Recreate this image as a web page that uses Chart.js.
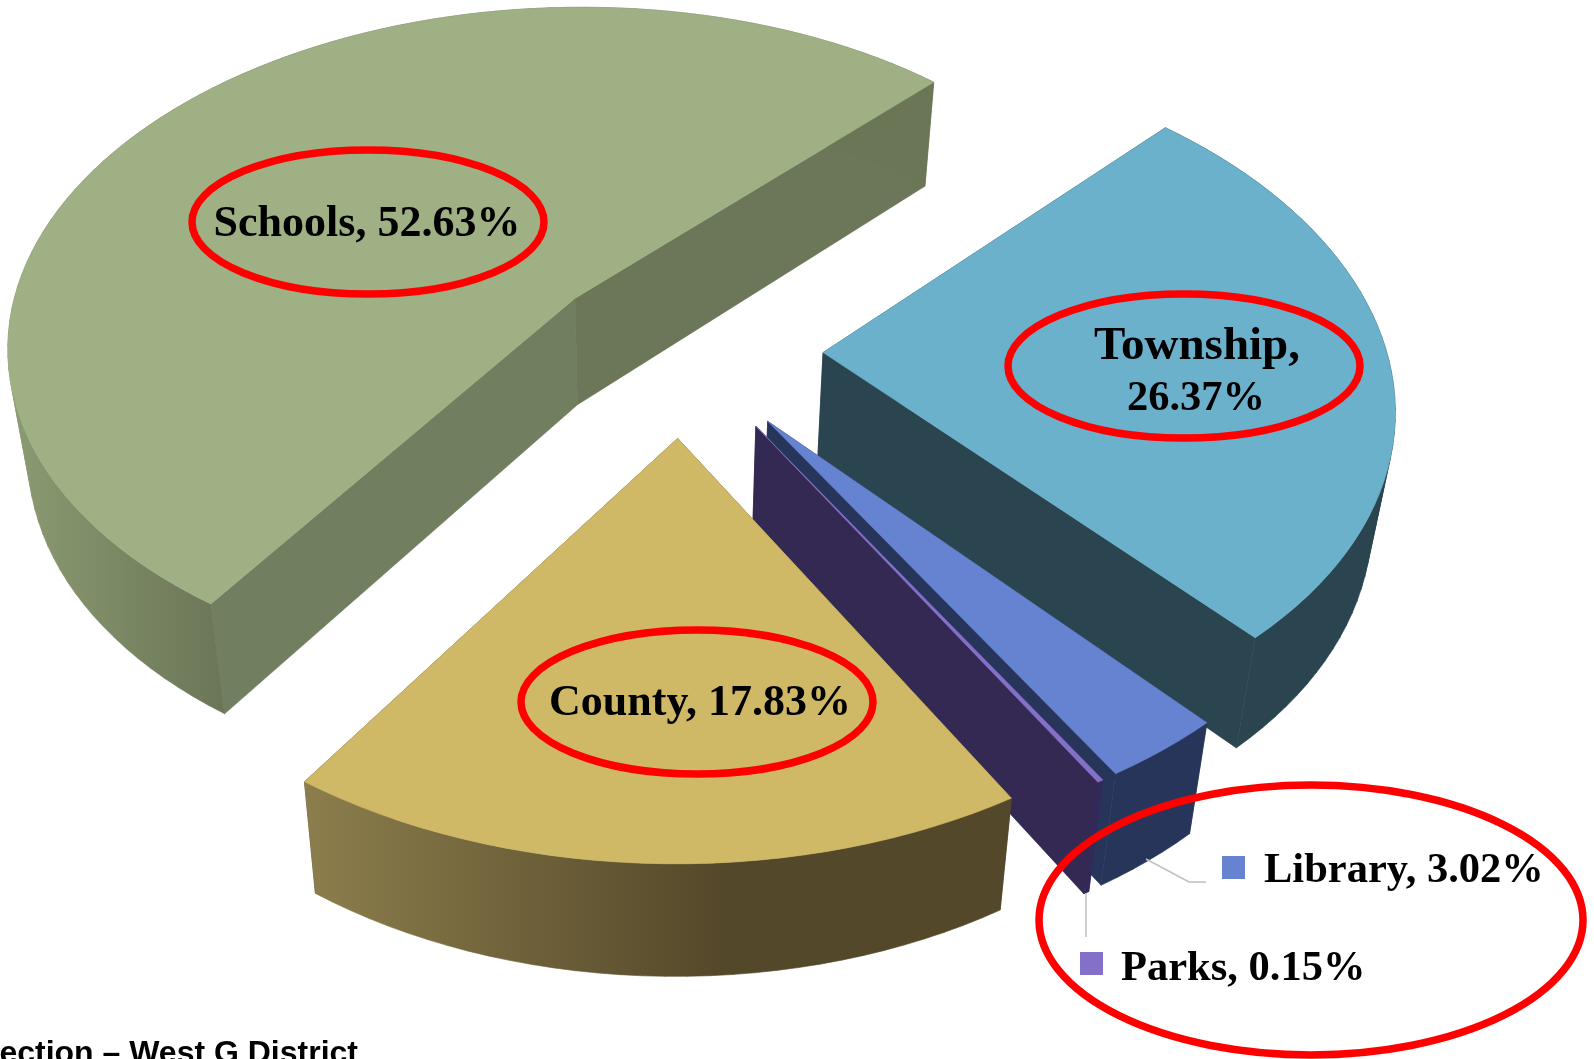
<!DOCTYPE html>
<html>
<head>
<meta charset="utf-8">
<title>West G District</title>
<script src="https://cdn.jsdelivr.net/npm/chart.js"></script>
<style>
  html, body { margin: 0; background: #fff; overflow: hidden; }
  canvas { display: block; }
</style>
</head>
<body>
<canvas id="myChart" width="1594" height="1059"></canvas>
<script>
const categories = ["Schools", "Township", "Library", "Parks", "County"];
const shares = [52.63, 26.37, 3.02, 0.15, 17.83];

const topColors = ["#9eb084", "#6bb1cb", "#6583d0", "#8470c8", "#cfb966"];
const startFaceColors = ["#717f60", "#2a4550", "#28355a", "#32295a", "#54482a"];
const endFaceColors = ["#6b7758", "#2a4550", "#28355a", "#332952", "#54482a"];
const rimColors = [
  ["#8b9b72", "#6b7657"],
  ["#2a4550", "#2a4550"],
  ["#28355a", "#28355a"],
  ["#32295a", "#32295a"],
  ["#8c7e4c", "#54482a"],
];
const rimRanges = [[10, 222], [0, 1594], [0, 1594], [0, 1594], [305, 720]];

// pie plane -> screen, fitted against the corners and rims of the slices
const tilt = [578.3519, 19.12699, 682.5652, -52.85392, 291.0434, 350.695, 0.03025281, -0.1304247];
// top of a slice -> bottom of its wall
const wall = { sx: 0.9686, dx: 20.5, sy: 1.011, dy: 103.1 };

const ringSpots = [
  [368, 222, 176, 72],
  [1184, 366, 176, 72],
  [697, 702, 176, 72],
  [1311, 920, 272, 135],
];

function project(x, y) {
  const w = tilt[6] * x + tilt[7] * y + 1;
  return [(tilt[0] * x + tilt[1] * y + tilt[2]) / w, (tilt[3] * x + tilt[4] * y + tilt[5]) / w];
}
function lower(p) {
  return [p[0] * wall.sx + wall.dx, p[1] * wall.sy + wall.dy];
}
function addPoly(ctx, pts) {
  // same winding for every piece so that overlaps stay filled
  let area = 0;
  pts.forEach((p, i) => {
    const q = pts[(i + 1) % pts.length];
    area += p[0] * q[1] - q[0] * p[1];
  });
  const ordered = area < 0 ? pts.slice().reverse() : pts;
  ordered.forEach((p, i) => (i ? ctx.lineTo(p[0], p[1]) : ctx.moveTo(p[0], p[1])));
  ctx.closePath();
}
function paint(ctx, polys, fill) {
  ctx.beginPath();
  polys.forEach((pts) => addPoly(ctx, pts));
  ctx.fillStyle = fill;
  ctx.strokeStyle = fill;
  ctx.lineWidth = 0.6;
  ctx.fill();
  ctx.stroke();
}

function drawSlice(ctx, arc, i) {
  const e = arc.options.offset / arc.outerRadius;
  const mid = (arc.startAngle + arc.endAngle) / 2;
  const ox = e * Math.cos(mid);
  const oy = e * Math.sin(mid);
  const apex = project(ox, oy);
  const steps = Math.max(2, Math.ceil((arc.endAngle - arc.startAngle) / 0.035));
  const rim = [];
  for (let k = 0; k <= steps; k++) {
    const t = arc.startAngle + ((arc.endAngle - arc.startAngle) * k) / steps;
    rim.push(project(ox + Math.cos(t), oy + Math.sin(t)));
  }
  const first = rim[0];
  const last = rim[rim.length - 1];

  paint(ctx, [[apex, first, lower(first), lower(apex)]], startFaceColors[i]);
  paint(ctx, [[apex, last, lower(last), lower(apex)]], endFaceColors[i]);

  const grad = ctx.createLinearGradient(rimRanges[i][0], 0, rimRanges[i][1], 0);
  grad.addColorStop(0, rimColors[i][0]);
  grad.addColorStop(1, rimColors[i][1]);
  const quads = [];
  for (let k = 0; k < steps; k++) {
    quads.push([rim[k], rim[k + 1], lower(rim[k + 1]), lower(rim[k])]);
  }
  paint(ctx, quads, grad);

  paint(ctx, [[apex].concat(rim)], arc.options.backgroundColor);
}

function serif(size) {
  return "bold " + size + "px 'Liberation Serif'";
}

function drawLabels(ctx) {
  const label = (i) => categories[i] + ", " + shares[i].toFixed(2) + "%";

  ctx.strokeStyle = "#bfbfbf";
  ctx.lineWidth = 1.5;
  ctx.beginPath();
  ctx.moveTo(1146, 859);
  ctx.lineTo(1189, 882);
  ctx.lineTo(1206, 882);
  ctx.moveTo(1086, 893);
  ctx.lineTo(1086, 937);
  ctx.stroke();

  ctx.strokeStyle = "#ff0000";
  ctx.lineWidth = 7.5;
  ringSpots.forEach((r) => {
    ctx.beginPath();
    ctx.ellipse(r[0], r[1], r[2], r[3], 0, 0, Math.PI * 2);
    ctx.stroke();
  });

  ctx.fillStyle = "#000";
  ctx.textBaseline = "alphabetic";
  ctx.textAlign = "center";
  ctx.font = serif(44);
  ctx.fillText(label(0), 367, 236);
  ctx.fillText(label(4), 700, 715);
  ctx.font = serif(47);
  ctx.fillText(categories[1] + ",", 1197, 359);
  ctx.font = serif(42.5);
  ctx.fillText(shares[1].toFixed(2) + "%", 1196, 410);
  ctx.textAlign = "left";
  ctx.fillText(label(2), 1264, 882);
  ctx.fillText(label(3), 1121, 980);

  ctx.fillStyle = topColors[2];
  ctx.fillRect(1222, 856, 23, 23);
  ctx.fillStyle = topColors[3];
  ctx.fillRect(1080, 952, 23, 23);

  ctx.fillStyle = "#000";
  ctx.font = "bold 32px 'Liberation Sans'";
  ctx.textAlign = "right";
  ctx.fillText("Section \u2013 West G District", 358, 1063);
}

const tiltedPie = {
  id: "tiltedPie",
  beforeDatasetsDraw(chart) {
    const ctx = chart.ctx;
    ctx.save();
    chart.getDatasetMeta(0).data.forEach((arc, i) => drawSlice(ctx, arc, i));
    drawLabels(ctx);
    ctx.restore();
    return false;
  },
};

const myChart = new Chart(document.getElementById("myChart").getContext("2d"), {
  type: "pie",
  data: {
    labels: categories,
    datasets: [
      {
        data: shares,
        backgroundColor: topColors,
        borderWidth: 0,
        offset: 99,
      },
    ],
  },
  options: {
    responsive: false,
    animation: false,
    rotation: 225,
    radius: 400,
    plugins: { legend: { display: false }, tooltip: { enabled: false } },
  },
  plugins: [tiltedPie],
});
</script>
</body>
</html>
